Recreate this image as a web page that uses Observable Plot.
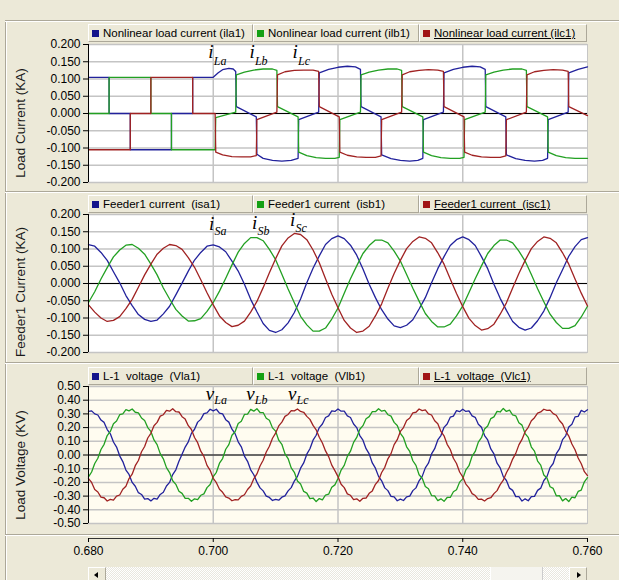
<!DOCTYPE html>
<html>
<head>
<meta charset="utf-8">
<script src="https://cdn.jsdelivr.net/npm/d3@7"></script>
<script src="https://cdn.jsdelivr.net/npm/@observablehq/plot@0.6"></script>
<style>
html,body{margin:0;padding:0}
body{background:#ECE9D8;width:619px;height:580px;overflow:hidden;position:relative;font-family:"Liberation Sans",Arial,sans-serif;}
.abs{position:absolute}
.sep{position:absolute;left:5px;right:0;height:1px;background:#ACA899;border-bottom:1px solid #fff}
.vsep{position:absolute;left:5px;top:20px;bottom:0;width:1px;background:#ACA899;border-right:1px solid #fff}
.leg{position:absolute;height:18px;box-sizing:border-box;border-top:1px solid #fff;border-left:1px solid #fff;border-right:1px solid #ACA899;border-bottom:1px solid #ACA899;font-size:11.5px;line-height:16px;white-space:pre;color:#000;display:flex;align-items:center}
.sw{display:inline-block;width:7px;height:7px;margin:0 4px 0 3px}
.ylab{position:absolute;font-size:13.5px;white-space:pre;transform:translate(-50%,-50%) rotate(-90deg);color:#1a1a1a}
.btn{position:absolute;top:567px;width:18px;height:16px;box-sizing:border-box;background:#ECE9D8;border-top:1px solid #fff;border-left:1px solid #fff;border-right:1px solid #ACA899}
.trough{position:absolute;top:567px;height:16px;background:repeating-conic-gradient(#ffffff 0 25%,#e9e7df 0 50%) 0 0/2px 2px}
.thumb{position:absolute;top:567px;height:16px;background:#F5F4EF;border-left:1px solid #fff;border-right:1px solid #ccc;box-sizing:border-box}
</style>
</head>
<body>
<div class="vsep"></div>
<div class="sep" style="top:20px"></div>
<div class="sep" style="top:191px"></div>
<div class="sep" style="top:362px"></div>
<div class="sep" style="top:534px"></div>
<div id="p1" class="abs" style="left:0;top:40px"></div>
<div id="p2" class="abs" style="left:0;top:210px"></div>
<div id="p3" class="abs" style="left:0;top:382px"></div>
<div id="xa" class="abs" style="left:0;top:535px"></div>
<div id="legends"></div>
<div class="ylab" style="left:20px;top:123px">Load Current (KA)</div>
<div class="ylab" style="left:20px;top:292px">Feeder1 Current (KA)</div>
<div class="ylab" style="left:20px;top:465px">Load Voltage (KV)</div>
<div class="btn" style="left:88px"><div style="position:absolute;left:5px;top:4px;width:0;height:0;border-top:3px solid transparent;border-bottom:3px solid transparent;border-right:4px solid #000"></div></div>
<div class="trough" style="left:106px;width:463px"></div>
<div class="thumb" style="left:490px;width:53px"></div>
<div class="btn" style="left:569px"><div style="position:absolute;left:7px;top:4px;width:0;height:0;border-top:3px solid transparent;border-bottom:3px solid transparent;border-left:4px solid #000"></div></div>
<script>
// ---------- data ----------
const xDomain = [0.68, 0.76];
const xTickValues = [0.68, 0.70, 0.72, 0.74, 0.76];
const xGridValues = [0.70, 0.72, 0.74];
const currentTicks = [-0.2, -0.15, -0.1, -0.05, 0, 0.05, 0.1, 0.15, 0.2];
const voltageTicks = [-0.5, -0.4, -0.3, -0.2, -0.1, 0, 0.1, 0.2, 0.3, 0.4, 0.5];

const colors = ["#22229c", "#22a022", "#a02222"];
const legendSwatch = ["#14148c", "#14a014", "#a01414"];

const loadNames = ["Nonlinear load current (ila1)", "Nonlinear load current (ilb1)", "Nonlinear load current (ilc1)"];
const feederNames = ["Feeder1 current  (isa1)", "Feeder1 current  (isb1)", "Feeder1 current  (isc1)"];
const voltageNames = ["L-1  voltage  (Vla1)", "L-1  voltage  (Vlb1)", "L-1  voltage  (Vlc1)"];

// Nonlinear load currents: vertices (time s, current kA)
const ilaT = [0.680,0.6833,0.6833,0.6867,0.6867,0.6933,0.6933,0.6967,0.6967,0.7000,0.7008,0.7015,0.7025,0.7032,0.7036,0.7037,0.7069,0.7070,0.7080,0.7095,0.7110,0.7125,0.7136,0.7137,0.7169,0.7170,0.7185,0.7200,0.7215,0.7228,0.7236,0.7237,0.7269,0.7270,0.7285,0.7300,0.7315,0.7328,0.7336,0.7337,0.7369,0.7370,0.7385,0.7400,0.7415,0.7428,0.7436,0.7437,0.7469,0.7470,0.7485,0.7500,0.7515,0.7528,0.7536,0.7537,0.7569,0.7570,0.7585,0.7600];
const ilaV = [.105,.105,0,0,-.105,-.105,0,0,.105,.105,.118,.127,.131,.129,.122,.020,-.010,-.118,-.130,-.136,-.138,-.136,-.130,-.018,.004,.118,.128,.134,.137,.135,.128,.020,-.010,-.120,-.131,-.136,-.138,-.136,-.130,-.018,.004,.118,.128,.134,.137,.135,.128,.020,-.010,-.120,-.131,-.136,-.138,-.136,-.130,-.018,.004,.118,.128,.135];
const ilbT = [0.680,0.6833,0.6833,0.6900,0.6900,0.6933,0.6933,0.7003,0.7004,0.7036,0.7037,0.7050,0.7065,0.7080,0.7095,0.7102,0.7103,0.7136,0.7137,0.7150,0.7165,0.7180,0.7195,0.7202,0.7203,0.7236,0.7237,0.7250,0.7265,0.7280,0.7295,0.7302,0.7303,0.7336,0.7337,0.7350,0.7365,0.7380,0.7395,0.7402,0.7403,0.7436,0.7437,0.7450,0.7465,0.7480,0.7495,0.7502,0.7503,0.7536,0.7537,0.7550,0.7565,0.7580,0.7600];
const ilbV = [0,0,.105,.105,0,0,-.105,-.105,-.012,.004,.112,.120,.126,.129,.129,.125,.020,-.010,-.112,-.122,-.128,-.130,-.130,-.127,-.018,.004,.112,.120,.126,.129,.129,.125,.020,-.010,-.112,-.122,-.128,-.130,-.130,-.127,-.018,.004,.112,.120,.126,.129,.129,.125,.020,-.010,-.112,-.122,-.128,-.130,-.130];
const ilcT = [0.680,0.6867,0.6867,0.6900,0.6900,0.6967,0.6967,0.7003,0.7004,0.7015,0.7030,0.7045,0.7060,0.7069,0.7070,0.7102,0.7103,0.7115,0.7130,0.7145,0.7160,0.7169,0.7170,0.7202,0.7203,0.7215,0.7230,0.7245,0.7260,0.7269,0.7270,0.7302,0.7303,0.7315,0.7330,0.7345,0.7360,0.7369,0.7370,0.7402,0.7403,0.7415,0.7430,0.7445,0.7460,0.7469,0.7470,0.7502,0.7503,0.7515,0.7530,0.7545,0.7560,0.7569,0.7570,0.7600];
const ilcV = [-.105,-.105,0,0,.105,.105,0,0,-.112,-.120,-.125,-.126,-.126,-.122,-.018,.004,.112,.121,.125,.126,.126,.122,.020,-.010,-.112,-.121,-.126,-.127,-.127,-.123,-.018,.004,.112,.121,.125,.127,.126,.122,.020,-.010,-.112,-.121,-.126,-.127,-.127,-.123,-.018,.004,.112,.121,.125,.127,.126,.122,.020,-.006];

// Feeder currents, sampled every 1 ms from 0.680 s (kA)
const isa = [.113,.108,.090,.067,.034,.002,-.035,-.064,-.090,-.104,-.110,-.106,-.088,-.066,-.033,.001,.036,.068,.090,.108,.112,
 .106,.092,.065,.036,-.002,-.046,-.082,-.116,-.136,-.142,-.134,-.114,-.084,-.045,.002,.044,.080,.113,.130,.138,
 .130,.111,.082,.042,-.002,-.041,-.076,-.103,-.123,-.128,-.121,-.105,-.074,-.041,.002,.043,.078,.110,.127,.135,
 .127,.110,.078,.043,-.002,-.043,-.078,-.110,-.127,-.135,-.129,-.108,-.080,-.041,.002,.040,.079,.107,.127,.133];
const isb = [-.055,-.024,.013,.046,.077,.097,.111,.113,.102,.085,.056,.025,-.013,-.045,-.075,-.094,-.109,-.108,-.102,-.081,-.055,
 -.022,.015,.054,.091,.116,.133,.133,.124,.099,.069,.027,-.016,-.056,-.095,-.120,-.138,-.138,-.129,-.103,-.071,
 -.028,.014,.051,.087,.110,.126,.126,.118,.094,.065,.026,-.014,-.051,-.087,-.110,-.126,-.126,-.118,-.094,-.065,
 -.026,.014,.051,.087,.110,.126,.126,.118,.094,.065,.026,-.015,-.053,-.089,-.113,-.130,-.130,-.122,-.097,-.066];
const isc = [-.062,-.083,-.100,-.110,-.107,-.096,-.073,-.046,-.011,.025,.056,.085,.102,.113,.110,.099,.075,.047,.011,-.027,-.062,
 -.094,-.113,-.125,-.121,-.109,-.083,-.052,-.012,.031,.072,.109,.132,.145,.142,.127,.097,.060,.014,-.031,-.070,
 -.107,-.129,-.142,-.138,-.124,-.094,-.059,-.014,.029,.067,.101,.122,.135,.131,.118,.089,.056,.013,-.029,-.067,
 -.101,-.122,-.135,-.131,-.118,-.089,-.056,-.013,.029,.067,.101,.122,.135,.131,.118,.089,.056,.013,-.028,-.065];

// Load voltages, sampled every 0.5 ms from 0.680 s (kV)
const vla = [.318,.322,.300,.292,.255,.238,.186,.155,.095,.058,-.006,-.048,-.110,-.142,-.200,-.228,-.275,-.288,-.322,-.318,-.335,-.316,-.322,-.288,-.272,-.226,-.200,-.143,-.108,-.046,.006,.058,.096,.158,.188,.240,.260,.302,.308,.334,
 .322,.334,.306,.300,.258,.240,.188,.156,.096,.060,-.008,-.046,-.108,-.144,-.198,-.240,-.262,-.300,-.310,-.332,-.324,-.330,-.308,-.298,-.262,-.238,-.190,-.156,-.096,-.058,.006,.046,.108,.144,.200,.226,.274,.286,.322,.318,
 .336,.320,.320,.286,.274,.226,.200,.142,.108,.046,.008,-.058,-.096,-.156,-.188,-.240,-.260,-.302,-.306,-.334,-.322,-.332,-.306,-.300,-.260,-.240,-.188,-.156,-.094,-.060,.008,.046,.110,.142,.202,.226,.276,.284,.324,.316,
 .334,.318,.322,.286,.275,.225,.202,.142,.110,.044,.008,-.060,-.094,-.158,-.186,-.242,-.258,-.304,-.304,-.336,-.320,-.334,-.304,-.302,-.258,-.242,-.186,-.158,-.092,-.062,.010,.044,.112,.140,.204,.224,.278,.282,.326,.314,
 .330];
const vlb = [-.160,-.124,-.062,-.024,.040,.078,.142,.172,.228,.248,.294,.300,.331,.322,.336,.312,.308,.270,.252,.200,.172,.110,.076,.010,-.028,-.092,-.128,-.188,-.214,-.264,-.280,-.316,-.316,-.338,-.320,-.326,-.294,-.284,-.238,-.216,
 -.158,-.126,-.060,-.026,.042,.076,.144,.170,.230,.246,.296,.298,.333,.320,.338,.310,.310,.268,.254,.198,.174,.108,.078,.008,-.026,-.094,-.126,-.190,-.212,-.266,-.278,-.318,-.314,-.340,-.318,-.328,-.292,-.286,-.236,-.218,
 -.172,-.110,-.076,-.010,.028,.092,.128,.188,.214,.264,.280,.316,.316,.338,.320,.326,.294,.284,.238,.216,.158,.126,.060,.026,-.042,-.076,-.144,-.170,-.230,-.246,-.296,-.298,-.333,-.320,-.338,-.310,-.310,-.268,-.254,-.198,
 -.174,-.108,-.078,-.008,.026,.094,.126,.190,.212,.266,.278,.318,.314,.340,.318,.328,.292,.286,.236,.218,.156,.128,.058,.028,-.044,-.074,-.146,-.168,-.232,-.244,-.298,-.296,-.335,-.318,-.340,-.308,-.312,-.266,-.256,-.196,
 -.165];
const vlc = [-.172,-.200,-.252,-.270,-.308,-.312,-.336,-.324,-.330,-.300,-.292,-.250,-.228,-.172,-.140,-.078,-.040,.024,.062,.124,.158,.214,.238,.284,.294,.326,.320,.338,.316,.314,.280,.262,.214,.186,.128,.090,.028,-.010,-.076,-.112,
 -.170,-.202,-.250,-.272,-.306,-.314,-.334,-.326,-.328,-.302,-.290,-.252,-.226,-.174,-.138,-.080,-.038,.022,.064,.122,.160,.212,.240,.282,.296,.324,.322,.336,.318,.312,.282,.260,.216,.184,.130,.088,.030,-.012,-.074,-.114,
 -.158,-.214,-.238,-.284,-.294,-.326,-.320,-.338,-.316,-.314,-.280,-.262,-.214,-.186,-.128,-.090,-.028,.010,.076,.112,.172,.200,.252,.270,.308,.312,.336,.324,.330,.300,.292,.250,.228,.172,.140,.078,.040,-.024,-.062,-.124,
 -.160,-.212,-.240,-.282,-.296,-.324,-.322,-.336,-.318,-.312,-.282,-.260,-.216,-.184,-.130,-.088,-.030,.012,.074,.114,.170,.202,.250,.272,.306,.314,.334,.326,.328,.302,.290,.252,.226,.174,.138,.080,.038,-.022,-.064,-.122,
 -.150];

// phase annotations
const loadNotes = [{t:0.6992, v:0.178, main:"i", sub:"La"}, {t:0.7058, v:0.178, main:"i", sub:"Lb"}, {t:0.7127, v:0.178, main:"i", sub:"Lc"}];
const feederNotes = [{t:0.6993, v:0.174, main:"i", sub:"Sa"}, {t:0.7062, v:0.176, main:"i", sub:"Sb"}, {t:0.7123, v:0.184, main:"i", sub:"Sc"}];
const voltageNotes = [{t:0.6988, v:0.449, main:"v", sub:"La"}, {t:0.7053, v:0.449, main:"v", sub:"Lb"}, {t:0.7120, v:0.449, main:"v", sub:"Lc"}];

// ---------- build ----------
const pairs = (ts, vs) => ts.map((t, i) => ({t, v: vs[i]}));
const tMs = d3.range(isa.length).map(i => 0.68 + i * 0.001);
const tHalf = d3.range(vla.length).map(i => 0.68 + i * 0.0005);

const svgStyle = {background: "transparent", fontFamily: "'Liberation Sans', Arial, sans-serif", fontSize: "12px", color: "#000", overflow: "visible"};

function panel(o) {
  return Plot.plot({
    width: 619, height: o.height,
    marginLeft: 88, marginRight: 32, marginTop: 4, marginBottom: 4,
    style: svgStyle,
    x: {domain: xDomain, axis: null},
    y: {domain: [o.ticks[0], o.ticks[o.ticks.length - 1]]},
    marks: [
      Plot.frame({fill: o.bg, stroke: "#c6c6c6"}),
      Plot.ruleY(o.ticks, {stroke: "#c4c4c4", strokeWidth: 1.5}),
      Plot.ruleX(xGridValues, {stroke: "#c4c4c4", strokeWidth: 1.5}),
      Plot.ruleY([0], {stroke: "#000", strokeWidth: 1}),
      ...o.series.map((s, i) => Plot.line(s, {x: "t", y: "v", stroke: colors[i], strokeWidth: 1.3})),
      Plot.ruleX([xDomain[0]], {stroke: "#000"}),
      Plot.axisY(o.ticks, {tickSize: 5, tickPadding: 3, tickFormat: d => d.toFixed(o.dec), label: null, fontSize: 12}),
      Plot.text(o.notes, {x: "t", y: "v", text: "main", textAnchor: "start", fontFamily: "'Liberation Serif', 'DejaVu Serif', serif", fontStyle: "italic", fontSize: 19, fill: "#000"}),
      Plot.text(o.notes, {x: "t", y: "v", text: "sub", textAnchor: "start", dx: o.subDx, dy: o.subDy, fontFamily: "'Liberation Serif', 'DejaVu Serif', serif", fontStyle: "italic", fontSize: 12, fill: "#000"})
    ]
  });
}

document.getElementById("p1").append(panel({
  height: 146, ticks: currentTicks, dec: 3, bg: "#ffffff", notes: loadNotes, subDx: 5.5, subDy: 9,
  series: [pairs(ilaT, ilaV), pairs(ilbT, ilbV), pairs(ilcT, ilcV)]
}));
document.getElementById("p2").append(panel({
  height: 146, ticks: currentTicks, dec: 3, bg: "#ffffff", notes: feederNotes, subDx: 5.5, subDy: 8,
  series: [pairs(tMs, isa), pairs(tMs, isb), pairs(tMs, isc)]
}));
document.getElementById("p3").append(panel({
  height: 145, ticks: voltageTicks, dec: 2, bg: "#fffcf0", notes: voltageNotes, subDx: 8.5, subDy: 7,
  series: [pairs(tHalf, vla), pairs(tHalf, vlb), pairs(tHalf, vlc)]
}));

document.getElementById("xa").append(Plot.plot({
  width: 619, height: 30, marginLeft: 88, marginRight: 32, marginTop: 0, marginBottom: 27,
  style: svgStyle,
  x: {domain: xDomain},
  y: {domain: [0, 1], axis: null},
  marks: [
    Plot.ruleY([0], {x1: xDomain[0], x2: xDomain[1], stroke: "#333"}),
    Plot.axisX(xTickValues, {tickSize: 4, tickPadding: 4, tickFormat: d => d.toFixed(3), label: null, fontSize: 12})
  ]
}));

// legends
const legRows = [[loadNames, 24], [feederNames, 195], [voltageNames, 367]];
const boxes = [[88, 165], [253, 166], [419, 168]];
const legWrap = document.getElementById("legends");
legRows.forEach(([names, top]) => {
  names.forEach((name, i) => {
    const d = document.createElement("div");
    d.className = "leg";
    d.style.left = boxes[i][0] + "px";
    d.style.width = boxes[i][1] + "px";
    d.style.top = top + "px";
    const sw = document.createElement("span");
    sw.className = "sw";
    sw.style.background = legendSwatch[i];
    const tx = document.createElement("span");
    tx.textContent = name;
    if (i === 2) tx.style.textDecoration = "underline";
    d.append(sw, tx);
    legWrap.append(d);
  });
});
</script>
</body>
</html>
